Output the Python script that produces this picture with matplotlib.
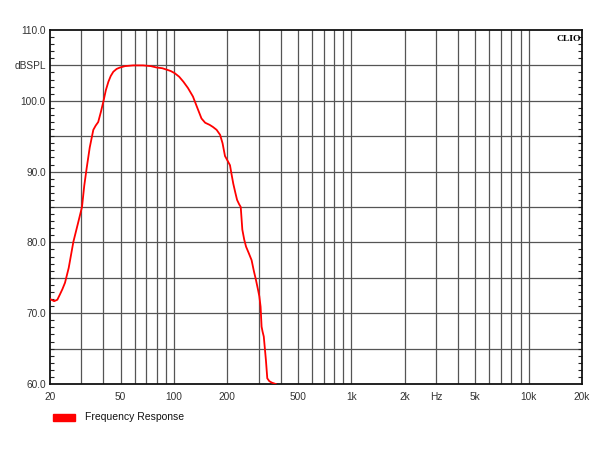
import matplotlib
matplotlib.use("Agg")
import matplotlib.pyplot as plt
from matplotlib.ticker import FixedLocator, MultipleLocator, NullFormatter
from matplotlib.patches import Rectangle

freq_hz = [20, 21.1, 22.0, 22.7, 23.5, 24.3, 25.5, 27.1, 28.7, 30.3, 31.2, 32.2, 33.5,
           35.1, 36.2, 37.4, 38.7, 40, 41.3, 42.7, 44.0, 45.5, 47.5, 49.6, 53, 59, 67,
           74, 80, 86, 91, 96, 101, 107, 113, 120, 128, 135, 143, 150, 159, 166, 174,
           182, 188, 194, 200, 207, 211, 216, 222, 227, 233, 238, 243, 249, 255, 264,
           274, 282, 290, 298, 303, 308, 312, 316, 321, 330, 336, 345, 356, 375]
spl_db = [72.0, 71.7, 71.9, 72.6, 73.4, 74.3, 76.4, 80.1, 82.6, 85.0, 88.0, 90.5, 93.4,
          95.9, 96.5, 97.0, 98.4, 99.9, 101.5, 102.7, 103.5, 104.1, 104.5, 104.7, 104.9,
          105.0, 105.0, 104.9, 104.7, 104.6, 104.4, 104.2, 103.9, 103.4, 102.7, 101.8,
          100.6, 99.1, 97.5, 96.9, 96.6, 96.3, 95.9, 95.2, 94.0, 92.2, 91.6, 90.9, 89.7,
          88.3, 87.0, 86.0, 85.4, 85.0, 81.8, 80.4, 79.4, 78.5, 77.5, 76.0, 74.7, 73.3,
          72.4, 70.9, 68.1, 67.4, 66.7, 63.4, 60.8, 60.4, 60.2, 60.0]

x_tick_vals = [20, 50, 100, 200, 500, 1000, 2000, 3000, 5000, 10000, 20000]
x_tick_labels = ["20", "50", "100", "200", "500", "1k", "2k", "Hz", "5k", "10k", "20k"]
y_tick_vals = [60, 70, 80, 90, 100, 105, 110]
y_tick_labels = ["60.0", "70.0", "80.0", "90.0", "100.0", "dBSPL", "110.0"]
legend_label = "Frequency Response"

plt.rcParams['font.family'] = ['Liberation Sans', 'DejaVu Sans']

fig = plt.figure(figsize=(6.1, 4.5), dpi=100)
ax = fig.add_axes([50/610, 66/450, 532/610, 354/450])
ax.set_xscale('log')
ax.set_xlim(20, 20000)
ax.set_ylim(60, 110)

grid_x = []
for dec in [10, 100, 1000, 10000]:
    for m in range(1, 10):
        v = m * dec
        if 20 < v < 20000:
            grid_x.append(v)
for v in grid_x:
    ax.axvline(v, color='#555555', lw=0.9, zorder=1)
for v in range(65, 110, 5):
    ax.axhline(v, color='#555555', lw=0.9, zorder=1)

ax.plot(freq_hz, spl_db, color='#ff0000', lw=1.3, zorder=3, solid_joinstyle='round')

ax.xaxis.set_major_locator(FixedLocator(x_tick_vals))
ax.set_xticklabels(x_tick_labels)
ax.xaxis.set_minor_locator(FixedLocator([]))
ax.xaxis.set_minor_formatter(NullFormatter())
ax.tick_params(axis='x', which='both', length=0, pad=6, labelsize=7.3, colors='#333333')

ax.set_yticks(y_tick_vals)
ax.set_yticklabels(y_tick_labels)
ax.yaxis.set_minor_locator(MultipleLocator(1))
ax.tick_params(axis='y', which='major', length=0, pad=3, labelsize=7.3, colors='#333333')
ax.tick_params(axis='y', which='minor', direction='in', length=3, width=0.8,
               left=True, right=True, color='#222222')

for s in ax.spines.values():
    s.set_linewidth(1.3)
    s.set_color('#111111')

ax.text(0.998, 0.985, "CLIO", transform=ax.transAxes, ha='right', va='top',
        fontsize=6.8, fontweight='bold', family=['Liberation Serif', 'DejaVu Serif'])

fig.patches.append(Rectangle((53/610, (450-421)/450), 22/610, 7/450,
                             transform=fig.transFigure, color='#ff0000'))
fig.text(85/610, (450-417)/450, legend_label, ha='left', va='center', fontsize=7.5,
         color='#111111')

fig.savefig("out.png", dpi=100, facecolor='white')
